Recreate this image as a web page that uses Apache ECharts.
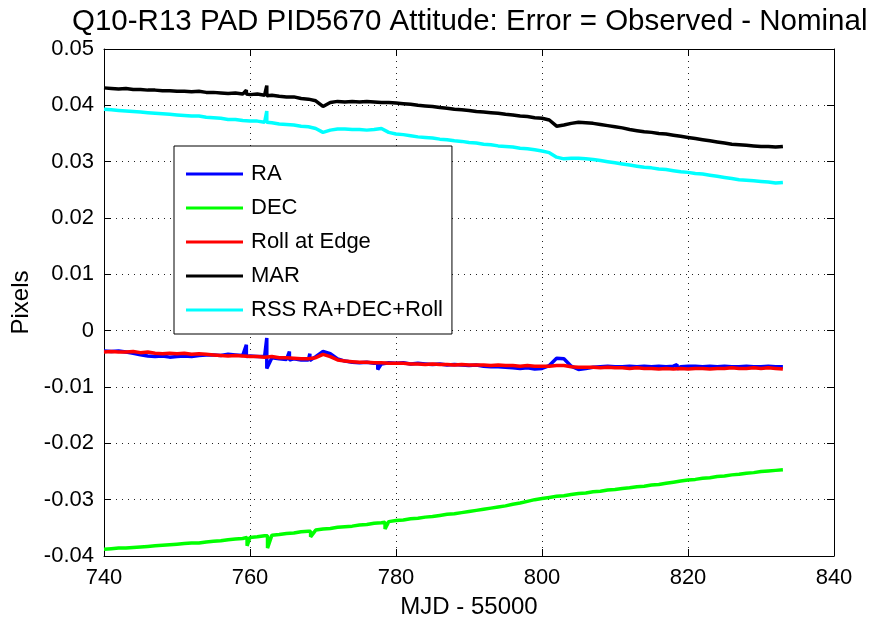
<!DOCTYPE html>
<html>
<head>
<meta charset="utf-8">
<script src="https://cdn.jsdelivr.net/npm/echarts@6/dist/echarts.min.js"></script>
<style>
  html, body { margin: 0; padding: 0; background: #fff; }
  #chart { width: 872px; height: 628px; }
</style>
</head>
<body>
<div id="chart"></div>
<script>
// MJD - 55000, one sample a day
var mjd = [
  740, 741, 742, 743, 744, 745, 746, 747, 748, 749,
  750, 751, 752, 753, 754, 755, 756, 757, 758, 759,
  760, 761, 762, 763, 764, 765, 766, 767, 768, 769,
  770, 771, 772, 773, 774, 775, 776, 777, 778, 779,
  780, 781, 782, 783, 784, 785, 786, 787, 788, 789,
  790, 791, 792, 793, 794, 795, 796, 797, 798, 799,
  800, 801, 802, 803, 804, 805, 806, 807, 808, 809,
  810, 811, 812, 813, 814, 815, 816, 817, 818, 819,
  820, 821, 822, 823, 824, 825, 826, 827, 828, 829,
  830, 831, 832, 833
];

var raValues = [
  -0.0036, -0.0037, -0.0036, -0.0038, -0.0040, -0.0043, -0.0045, -0.0046, -0.0045, -0.0047,
  -0.0046, -0.0045, -0.0046, -0.0044, -0.0043, -0.0043, -0.0044, -0.0042, -0.0043, -0.0044,
  -0.0045, -0.0046, -0.0046, -0.0048, -0.0050, -0.0051, -0.0050, -0.0052, -0.0052, -0.0046,
  -0.0037, -0.0041, -0.0050, -0.0054, -0.0056, -0.0057, -0.0056, -0.0058, -0.0059, -0.0057,
  -0.0058, -0.0057, -0.0059, -0.0058, -0.0059, -0.0060, -0.0059, -0.0061, -0.0060, -0.0061,
  -0.0062, -0.0061, -0.0063, -0.0064, -0.0064, -0.0065, -0.0066, -0.0067, -0.0066, -0.0068,
  -0.0067, -0.0062, -0.0049, -0.0050, -0.0063, -0.0069, -0.0067, -0.0065, -0.0064, -0.0063,
  -0.0064, -0.0064, -0.0063, -0.0064, -0.0063, -0.0064, -0.0063, -0.0064, -0.0063, -0.0064,
  -0.0063, -0.0063, -0.0064, -0.0063, -0.0064, -0.0063, -0.0064, -0.0064, -0.0063, -0.0064,
  -0.0064, -0.0063, -0.0064, -0.0064
];

var decValues = [
  -0.0388, -0.0387, -0.0386, -0.0386, -0.0385, -0.0384, -0.0383, -0.0382, -0.0381, -0.0380,
  -0.0379, -0.0378, -0.0377, -0.0377, -0.0375, -0.0374, -0.0373, -0.0371, -0.0370, -0.0369,
  -0.0367, -0.0366, -0.0364, -0.0363, -0.0362, -0.0360, -0.0359, -0.0357, -0.0356, -0.0354,
  -0.0352, -0.0351, -0.0349, -0.0348, -0.0347, -0.0345, -0.0344, -0.0342, -0.0341, -0.0339,
  -0.0337, -0.0336, -0.0334, -0.0333, -0.0331, -0.0330, -0.0328, -0.0326, -0.0325, -0.0323,
  -0.0321, -0.0319, -0.0317, -0.0315, -0.0313, -0.0311, -0.0308, -0.0306, -0.0303, -0.0300,
  -0.0298, -0.0296, -0.0294, -0.0293, -0.0291, -0.0289, -0.0288, -0.0286, -0.0285, -0.0283,
  -0.0282, -0.0280, -0.0279, -0.0277, -0.0276, -0.0274, -0.0273, -0.0271, -0.0269, -0.0267,
  -0.0265, -0.0264, -0.0262, -0.0261, -0.0259, -0.0258, -0.0256, -0.0255, -0.0253, -0.0252,
  -0.0250, -0.0249, -0.0248, -0.0247
];

var rollValues = [
  -0.0038, -0.0037, -0.0038, -0.0038, -0.0037, -0.0039, -0.0038, -0.0040, -0.0041, -0.0040,
  -0.0041, -0.0040, -0.0042, -0.0041, -0.0042, -0.0043, -0.0044, -0.0045, -0.0044, -0.0045,
  -0.0046, -0.0046, -0.0047, -0.0046, -0.0048, -0.0048, -0.0049, -0.0050, -0.0050, -0.0048,
  -0.0042, -0.0046, -0.0052, -0.0054, -0.0055, -0.0056, -0.0056, -0.0057, -0.0057, -0.0058,
  -0.0058, -0.0058, -0.0059, -0.0059, -0.0060, -0.0059, -0.0060, -0.0060, -0.0061, -0.0060,
  -0.0061, -0.0061, -0.0061, -0.0062, -0.0061, -0.0062, -0.0062, -0.0063, -0.0062, -0.0063,
  -0.0063, -0.0063, -0.0062, -0.0062, -0.0064, -0.0065, -0.0065, -0.0065, -0.0066, -0.0065,
  -0.0066, -0.0066, -0.0067, -0.0066, -0.0067, -0.0067, -0.0068, -0.0067, -0.0068, -0.0067,
  -0.0068, -0.0067, -0.0067, -0.0068, -0.0067, -0.0067, -0.0066, -0.0067, -0.0067, -0.0066,
  -0.0067, -0.0066, -0.0067, -0.0068
];

var marValues = [
  0.0431, 0.0430, 0.0429, 0.0430, 0.0428, 0.0428, 0.0427, 0.0427, 0.0426, 0.0426,
  0.0425, 0.0425, 0.0424, 0.0425, 0.0423, 0.0423, 0.0422, 0.0421, 0.0422, 0.0420,
  0.0419, 0.0420, 0.0418, 0.0418, 0.0416, 0.0415, 0.0415, 0.0412, 0.0411, 0.0408,
  0.0398, 0.0405, 0.0407, 0.0406, 0.0407, 0.0406, 0.0407, 0.0406, 0.0405, 0.0405,
  0.0404, 0.0403, 0.0402, 0.0400, 0.0399, 0.0398, 0.0396, 0.0395, 0.0393, 0.0392,
  0.0391, 0.0389, 0.0388, 0.0387, 0.0386, 0.0384, 0.0383, 0.0381, 0.0380, 0.0378,
  0.0377, 0.0374, 0.0363, 0.0365, 0.0368, 0.0370, 0.0369, 0.0368, 0.0366, 0.0364,
  0.0362, 0.0360, 0.0357, 0.0355, 0.0353, 0.0352, 0.0350, 0.0349, 0.0347, 0.0345,
  0.0343, 0.0341, 0.0339, 0.0337, 0.0335, 0.0333, 0.0331, 0.0330, 0.0329, 0.0328,
  0.0327, 0.0327, 0.0326, 0.0327
];

var rssValues = [
  0.0393, 0.0392, 0.0391, 0.0390, 0.0389, 0.0388, 0.0387, 0.0386, 0.0385, 0.0384,
  0.0383, 0.0382, 0.0381, 0.0381, 0.0379, 0.0378, 0.0377, 0.0375, 0.0375, 0.0373,
  0.0372, 0.0372, 0.0370, 0.0369, 0.0367, 0.0366, 0.0365, 0.0363, 0.0362, 0.0359,
  0.0352, 0.0356, 0.0358, 0.0358, 0.0357, 0.0357, 0.0356, 0.0357, 0.0359, 0.0352,
  0.0349, 0.0348, 0.0346, 0.0344, 0.0343, 0.0342, 0.0340, 0.0339, 0.0337, 0.0336,
  0.0334, 0.0333, 0.0331, 0.0330, 0.0328, 0.0327, 0.0326, 0.0324, 0.0323, 0.0321,
  0.0319, 0.0316, 0.0308, 0.0305, 0.0306, 0.0306, 0.0305, 0.0304, 0.0302, 0.0300,
  0.0298, 0.0296, 0.0294, 0.0292, 0.0290, 0.0289, 0.0287, 0.0286, 0.0284, 0.0282,
  0.0281, 0.0279, 0.0278, 0.0276, 0.0274, 0.0272, 0.0270, 0.0268, 0.0267, 0.0266,
  0.0265, 0.0264, 0.0262, 0.0263
];

// short glitches: [mjd, high, low]
var raSpikes   = [[759.5, -0.0025, -0.0046], [762.3, -0.0013, -0.0067], [765.4, -0.0037, -0.0052],
                  [768.2, -0.0041, -0.0053], [777.5, -0.0057, -0.0069], [818.5, -0.0060, -0.0068]];
var decSpikes  = [[759.6, -0.0367, -0.0382], [762.4, -0.0364, -0.0386], [768.3, -0.0356, -0.0366],
                  [778.5, -0.0340, -0.0352]];
var rollSpikes = [];
var marSpikes  = [[759.5, 0.0427, 0.0420], [762.3, 0.0435, 0.0417]];
var rssSpikes  = [[762.3, 0.0390, 0.0370]];

var names  = ['RA', 'DEC', 'Roll at Edge', 'MAR', 'RSS RA+DEC+Roll'];
var colors = ['#0000ff', '#00ff00', '#ff0000', '#000000', '#00ffff'];

var xTicks = { min: 740, max: 840, step: 20 };
var yTicks = { min: -0.04, max: 0.05, step: 0.01 };

function buildData(vals, spikes) {
    var pts = [];
    for (var i = 0; i < mjd.length; i++) pts.push([mjd[i], vals[i]]);
    spikes.forEach(function (s) {
        pts.push([s[0], s[1]]);
        pts.push([s[0], s[2]]);
    });
    // stable sort keeps the high/low order of each spike
    return pts.sort(function (a, b) { return a[0] - b[0]; });
}

var font = 'Liberation Sans, Arial, Helvetica, sans-serif';

var seriesVals   = [raValues, decValues, rollValues, marValues, rssValues];
var seriesSpikes = [raSpikes, decSpikes, rollSpikes, marSpikes, rssSpikes];

var myChart = echarts.init(document.getElementById('chart'));

var option = {
    animation: false,
    backgroundColor: '#fff',
    title: {
        text: 'Q10-R13 PAD PID5670 Attitude: Error = Observed - Nominal',
        left: 67,
        top: 2,
        textStyle: {
            fontFamily: font,
            fontSize: 29.5,
            fontWeight: 'normal',
            color: '#000'
        }
    },
    grid: {
        left: 104,
        right: 38,
        top: 49,
        bottom: 72,
        containLabel: false
    },
    legend: {
        orient: 'vertical',
        left: 174,
        top: 146,
        padding: [17, 9, 13, 12],
        backgroundColor: '#fff',
        borderColor: '#000',
        borderWidth: 1,
        icon: 'rect',
        itemWidth: 57,
        itemHeight: 3,
        itemGap: 12,
        textStyle: {
            fontFamily: font,
            fontSize: 22,
            lineHeight: 22,
            color: '#000',
            padding: [0, 0, 0, 3]
        },
        data: names
    },
    xAxis: [
        {
            type: 'value',
            min: xTicks.min,
            max: xTicks.max,
            interval: xTicks.step,
            name: 'MJD - 55000',
            nameLocation: 'middle',
            nameGap: 39,
            nameTextStyle: { fontFamily: font, fontSize: 24, color: '#000' },
            axisLine: { onZero: false, lineStyle: { color: '#000', width: 1 } },
            axisTick: { inside: true, length: 7, lineStyle: { color: '#000' } },
            axisLabel: { fontFamily: font, fontSize: 22, color: '#000', margin: 11 },
            splitLine: { show: true, lineStyle: { color: '#222', type: [1, 5], width: 1 } }
        },
        {
            type: 'value',
            position: 'top',
            min: xTicks.min,
            max: xTicks.max,
            interval: xTicks.step,
            axisLine: { show: true, onZero: false, lineStyle: { color: '#000', width: 1 } },
            axisTick: { inside: true, length: 7, lineStyle: { color: '#000' } },
            axisLabel: { show: false },
            splitLine: { show: false }
        }
    ],
    yAxis: [
        {
            type: 'value',
            min: yTicks.min,
            max: yTicks.max,
            interval: yTicks.step,
            name: 'Pixels',
            nameLocation: 'middle',
            nameRotate: 90,
            nameGap: 64,
            nameTextStyle: { fontFamily: font, fontSize: 24, color: '#000' },
            axisLine: { show: true, onZero: false, lineStyle: { color: '#000', width: 1 } },
            axisTick: { show: true, inside: true, length: 7, lineStyle: { color: '#000' } },
            axisLabel: {
                fontFamily: font, fontSize: 22, color: '#000', margin: 10,
                formatter: function (v) { return String(Number(v.toFixed(3))); }
            },
            splitLine: { show: true, lineStyle: { color: '#222', type: [1, 5], width: 1 } }
        },
        {
            type: 'value',
            position: 'right',
            min: yTicks.min,
            max: yTicks.max,
            interval: yTicks.step,
            axisLine: { show: true, onZero: false, lineStyle: { color: '#000', width: 1 } },
            axisTick: { show: true, inside: true, length: 7, lineStyle: { color: '#000' } },
            axisLabel: { show: false },
            splitLine: { show: false }
        }
    ],
    series: names.map(function (n, i) {
        return {
            name: n,
            type: 'line',
            xAxisIndex: 0,
            yAxisIndex: 0,
            showSymbol: false,
            symbol: 'none',
            color: colors[i],
            lineStyle: { color: colors[i], width: 3.5 },
            data: buildData(seriesVals[i], seriesSpikes[i])
        };
    })
};

myChart.setOption(option);
</script>
</body>
</html>
